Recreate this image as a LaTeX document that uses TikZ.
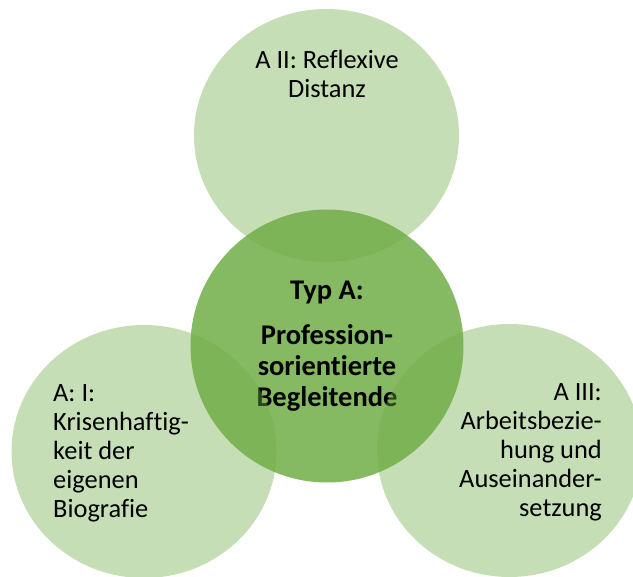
\documentclass[tikz,border=0pt]{standalone}
\usepackage{fontspec}
\setmainfont{Carlito}[Ligatures=NoCommon]
\definecolor{leafgreen}{HTML}{70AD47}
\tikzset{
  side/.style={fill=leafgreen, fill opacity=0.4, draw=none},
  core/.style={fill=leafgreen, fill opacity=0.85, draw=none},
  sidetext/.style={inner sep=0pt, text=black, font=\fontsize{26.4}{29}\selectfont},
  coretext/.style={inner sep=0pt, text=black, align=center, font=\bfseries\fontsize{28.5}{31}\selectfont}
}
\begin{document}
\begin{tikzpicture}[x=1pt,y=-1pt]
\useasboundingbox (0,0) rectangle (633,577);
\clip (0,0) rectangle (633,577);

% upper aspect (base anchor sits on the last line)
\path[side] (326.5,135.5) ellipse [x radius=132.5, y radius=126.5];
\node[sidetext, align=center, anchor=base] (t2) at (327,98) {A II: Reflexive\\Distanz};

% central type
\path[core] (327,346) circle [radius=136.5];
\node[coretext, anchor=base] (t0) at (327,407) {Typ A:\\[14pt]Profession-\\sorientierte\\Begleitende};

% lower left and lower right aspects
\path[side] (144,451.5) ellipse [x radius=132.5, y radius=126.5];
\path[side] (509.5,450.5) ellipse [x radius=132.5, y radius=126.5];

\node[sidetext, align=left, anchor=base west] (t1) at (53,518) {A: I:\\Krisenhaftig-\\keit der\\eigenen\\Biografie};
\node[sidetext, align=right, anchor=base east] (t3) at (602,517) {A III:\\Arbeitsbezie-\\hung und\\Auseinander-\\setzung};
\end{tikzpicture}
\end{document}
